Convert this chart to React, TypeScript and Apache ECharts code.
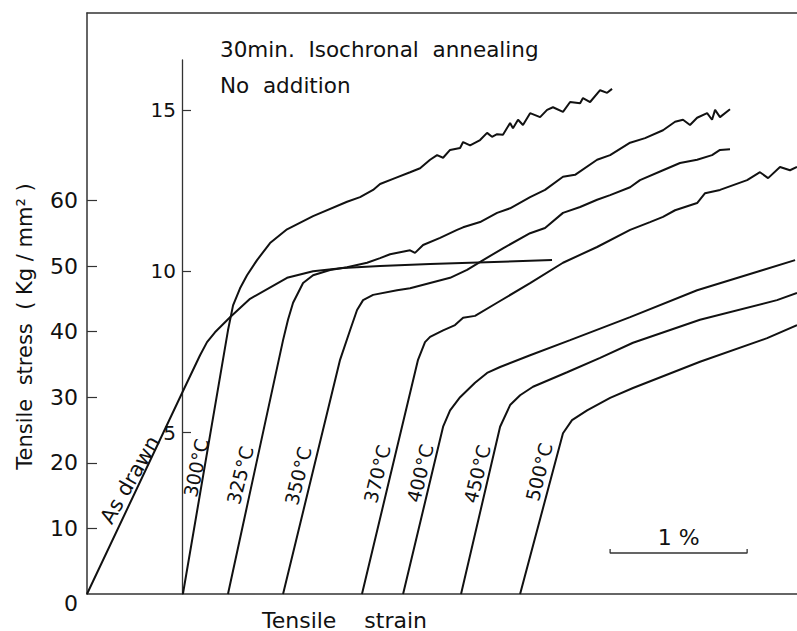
import React, { useEffect, useRef } from "react";
import * as echarts from "echarts";

// Left scale (kg/mm²) tick values
const stressTicks = [10, 20, 30, 40, 50, 60];
const stressLabels = [0, 10, 20, 30, 40, 50, 60];
// Inner auxiliary scale
const innerTicks = [5, 10, 15];

// Curves: [strain %, stress kg/mm²]
const asDrawn = [
  [0, 0], [0.693, 30.6], [0.825, 36.4], [0.876, 38.4], [0.934, 39.9], [1.044, 42.2],
  [1.19, 45.0], [1.46, 48.2], [1.65, 49.2], [1.869, 49.7], [2.139, 50.0], [2.504, 50.3],
  [3.234, 50.8], [3.394, 50.9],
];
const c300 = [
  [0.70, 0], [1.029, 40.2], [1.066, 44.0], [1.117, 46.6], [1.168, 48.6], [1.241, 50.9],
  [1.336, 53.5], [1.46, 55.6], [1.65, 57.6], [1.898, 59.8], [1.993, 60.5], [2.088, 61.6],
  [2.139, 62.5], [2.248, 63.4], [2.358, 64.3], [2.431, 64.9], [2.504, 66.2], [2.555, 66.9],
  [2.599, 66.5], [2.65, 67.7], [2.723, 68.0], [2.745, 68.9], [2.796, 68.4], [2.869, 69.2],
  [2.92, 70.3], [2.956, 69.7], [2.993, 70.1], [3.036, 70.0], [3.088, 71.8], [3.109, 71.0],
  [3.146, 72.3], [3.182, 71.5], [3.234, 73.3], [3.307, 72.7], [3.358, 73.8], [3.401, 74.2],
  [3.474, 73.5], [3.526, 75.0], [3.599, 74.8], [3.62, 75.6], [3.672, 75.0], [3.745, 76.8],
  [3.796, 76.4], [3.832, 77.0],
];
const c325 = [
  [1.029, 0], [1.431, 38.7], [1.467, 41.8], [1.504, 44.4], [1.577, 47.4], [1.65, 48.6],
  [1.774, 49.4], [1.898, 49.8], [2.044, 50.5], [2.139, 51.2], [2.212, 51.8], [2.358, 52.4],
  [2.394, 52.0], [2.453, 53.2], [2.577, 54.3], [2.701, 55.5], [2.745, 55.9], [2.869, 56.7],
  [2.993, 58.1], [3.088, 58.8], [3.234, 60.5], [3.343, 61.6], [3.474, 63.6], [3.562, 63.9],
  [3.723, 66.2], [3.818, 66.9], [3.964, 68.8], [4.073, 69.5], [4.204, 70.7], [4.292, 72.0],
  [4.35, 72.3], [4.401, 71.5], [4.453, 72.6], [4.526, 73.3], [4.562, 72.3], [4.584, 73.8],
  [4.62, 72.7], [4.693, 73.9],
];
const c350 = [
  [1.431, 0], [1.847, 35.7], [1.92, 40.2], [1.971, 43.3], [2.015, 44.8], [2.088, 45.6],
  [2.263, 46.3], [2.358, 46.6], [2.504, 47.4], [2.65, 48.2], [2.774, 49.4], [2.891, 50.9],
  [3.036, 52.7], [3.234, 55.0], [3.343, 55.8], [3.474, 58.1], [3.599, 59.0], [3.723, 60.1],
  [3.818, 60.8], [3.964, 62.0], [4.036, 63.1], [4.204, 64.6], [4.328, 65.7], [4.453, 66.2],
  [4.562, 66.9], [4.62, 67.7], [4.693, 67.8],
];
const c370 = [
  [2.007, 0], [2.416, 35.7], [2.467, 38.4], [2.504, 39.2], [2.599, 40.2], [2.686, 41.0],
  [2.745, 42.1], [2.832, 42.4], [2.993, 44.4], [3.234, 47.4], [3.474, 50.5], [3.723, 52.9],
  [3.964, 55.5], [4.109, 56.7], [4.204, 57.5], [4.292, 58.5], [4.453, 59.6], [4.511, 61.1],
  [4.62, 61.6], [4.818, 63.1], [4.912, 64.3], [4.971, 63.4], [5.058, 65.1], [5.131, 64.6],
  [5.182, 65.1],
];
const c400 = [
  [2.307, 0], [2.599, 25.5], [2.65, 28.0], [2.723, 30.0], [2.832, 32.2], [2.92, 33.7],
  [3.015, 34.6], [3.234, 36.4], [3.526, 38.7], [3.964, 42.2], [4.453, 46.3], [4.934, 49.4],
  [5.168, 50.9],
];
const c450 = [
  [2.73, 0], [3.015, 25.5], [3.088, 28.8], [3.161, 30.3], [3.255, 31.6], [3.504, 33.8],
  [3.745, 36.0], [3.985, 38.3], [4.474, 41.8], [5.036, 44.8], [5.182, 45.9],
];
const c500 = [
  [3.161, 0], [3.474, 24.5], [3.54, 26.5], [3.65, 28.0], [3.818, 29.9], [3.985, 31.4],
  [4.474, 35.4], [4.964, 39.0], [5.182, 41.0],
];

const curves = [asDrawn, c300, c325, c350, c370, c400, c450, c500];
const curveNames = ["As drawn", "300°C", "325°C", "350°C", "370°C", "400°C", "450°C", "500°C"];
// Label anchor points in data units [strain %, stress]
const labelAnchors = [
  [0.314, 17.4], [0.796, 19.2], [1.117, 18.1], [1.54, 18.0], [2.117, 18.3],
  [2.431, 18.4], [2.847, 18.3], [3.299, 18.6],
];
const labelAngles = [60, 78, 76, 76, 76, 76, 76, 76];

// 1 % strain scale bar
const scaleBar = [[3.818, 6.85], [3.818, 6.25], [4.818, 6.25], [4.818, 6.85]];
const scaleLabel = [4.318, 8.6];

const FONT = "DejaVu Sans";
const INK = "#111111";

export default function App() {
  const ref = useRef<HTMLDivElement>(null);
  useEffect(() => {
    const chart = echarts.init(ref.current!, null, { renderer: "svg" });
    const lineSeries = curves.map((d, i) => ({
      type: "line",
      name: curveNames[i],
      xAxisIndex: 0,
      yAxisIndex: 0,
      data: d,
      showSymbol: false,
      symbol: "none",
      smooth: false,
      lineStyle: { color: INK, width: 2 },
      silent: true,
    }));
    const labelStyle = (size: number) => ({
      fontSize: size, fontFamily: FONT, color: INK,
      textBorderWidth: 0, textBorderColor: "transparent", opacity: 1,
    });
    const option: any = {
      animation: false,
      backgroundColor: "#ffffff",
      textStyle: { fontFamily: FONT, color: INK },
      grid: [
        { left: 87, right: 0, top: 13, bottom: 37 },
        { left: 182, right: 0, top: 60, bottom: 37 },
      ],
      xAxis: [
        {
          type: "value", gridIndex: 0, min: 0, max: 5.182, position: "bottom",
          axisLine: { show: true, onZero: false, lineStyle: { color: "#333", width: 1.5 } },
          axisTick: { show: false }, axisLabel: { show: false }, splitLine: { show: false },
        },
        {
          type: "value", gridIndex: 0, min: 0, max: 5.182, position: "top",
          axisLine: { show: true, onZero: false, lineStyle: { color: "#333", width: 1.5 } },
          axisTick: { show: false }, axisLabel: { show: false }, splitLine: { show: false },
        },
        {
          type: "value", gridIndex: 1, min: 0, max: 1, show: false,
        },
      ],
      yAxis: [
        {
          type: "value", gridIndex: 0, min: 0, max: 88.57, position: "left",
          name: "Tensile  stress  ( Kg / mm² )",
          nameLocation: "middle",
          nameGap: 52,
          nameTextStyle: { fontSize: 21, color: INK, fontFamily: FONT, padding: [0, 46, 0, 0] },
          axisLine: { show: true, onZero: false, lineStyle: { color: "#333", width: 1.5 } },
          axisTick: { show: true, inside: true, length: 10, customValues: stressTicks, lineStyle: { color: "#333", width: 1.2 } },
          axisLabel: {
            show: true, customValues: stressLabels, margin: 9, fontSize: 22, color: INK, fontFamily: FONT,
            formatter: (v: number) => (v === 0 ? "{z|0}" : String(v)),
            rich: { z: { fontSize: 22, fontFamily: FONT, color: INK, padding: [18, 0, 0, 0] } },
          },
          splitLine: { show: false },
        },
        {
          type: "value", gridIndex: 1, min: 0, max: 16.55, position: "left",
          axisLine: { show: true, onZero: false, lineStyle: { color: "#333", width: 1.3 } },
          axisTick: { show: true, inside: true, length: 9, customValues: innerTicks, lineStyle: { color: "#333", width: 1.2 } },
          axisLabel: { show: true, customValues: innerTicks, margin: 6, fontSize: 20, color: INK, fontFamily: FONT },
          splitLine: { show: false },
        },
      ],
      graphic: [
        { type: "text", left: 220, top: 38, style: { text: "30min.  Isochronal  annealing", fontSize: 21.5, fontFamily: FONT, fill: INK } },
        { type: "text", left: 220, top: 74, style: { text: "No  addition", fontSize: 21.5, fontFamily: FONT, fill: INK } },
        { type: "text", left: 262, top: 609, style: { text: "Tensile    strain", fontSize: 22, fontFamily: FONT, fill: INK } },
      ],
      series: [
        ...lineSeries,
        {
          type: "line", name: "scale", data: scaleBar, showSymbol: false, symbol: "none",
          lineStyle: { color: "#333", width: 1.3 }, silent: true,
        },
        {
          type: "scatter",
          name: "labels",
          symbolSize: 0,
          silent: true,
          itemStyle: { opacity: 1 },
          data: labelAnchors.map((p, i) => ({
            value: p,
            label: {
              show: true, position: "inside", formatter: curveNames[i], rotate: labelAngles[i],
              ...labelStyle(i === 0 ? 21 : 19),
            },
          })),
        },
        {
          type: "scatter",
          name: "scaleLabel",
          symbolSize: 0,
          silent: true,
          data: [{
            value: scaleLabel,
            label: { show: true, position: "inside", formatter: "1 %", ...labelStyle(22) },
          }],
        },
      ],
    };
    chart.setOption(option);
    return () => chart.dispose();
  }, []);
  return (
    <div
      ref={ref}
      style={{ position: "fixed", left: 0, top: 0, width: 797, height: 631, background: "#fff" }}
    />
  );
}
